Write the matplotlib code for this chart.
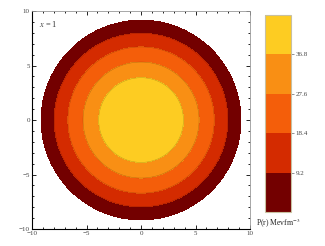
import numpy as np
import matplotlib
matplotlib.use("Agg")
import matplotlib.pyplot as plt
from matplotlib.ticker import MultipleLocator

# Data
levels = [2.0, 9.2, 18.4, 27.6, 36.8, 46.0]           # contour levels (colorbar range)
bound_radii = [0.0, 3.89, 5.32, 6.71, 7.96, 9.17]     # radius where P equals the value below
bound_vals = [46.0, 36.8, 27.6, 18.4, 9.2, 2.0]
cbar_ticks = [9.2, 18.4, 27.6, 36.8]
colors = ["#730000", "#d42b00", "#f45e0a", "#f98f14", "#fdcc22"]
label_text = "$x$ = 1"
cbar_label = "P(r) Mevfm$^{-3}$"

plt.rcParams['font.family'] = ['Liberation Serif', 'DejaVu Serif']
plt.rcParams['mathtext.fontset'] = 'stix'

fig = plt.figure(figsize=(3.25, 2.46), dpi=100)
ax = fig.add_axes([0.0985, 0.069, 0.671, 0.886])

g = np.linspace(-10, 10, 801)
X, Y = np.meshgrid(g, g)
R = np.sqrt(X**2 + Y**2)
P = np.interp(R, bound_radii, bound_vals, right=-1.0)

cf = ax.contourf(X, Y, P, levels=levels, colors=colors)
ax.contour(X, Y, P, levels=levels[1:-1], colors='k', linewidths=0.35, alpha=0.25)

ax.set_xlim(-10, 10)
ax.set_ylim(-10, 10)
ax.set_xticks([-10, -5, 0, 5, 10])
ax.set_yticks([-10, -5, 0, 5, 10])
ax.xaxis.set_minor_locator(MultipleLocator(1))
ax.yaxis.set_minor_locator(MultipleLocator(1))
ax.tick_params(which='both', direction='in', top=True, right=True,
               labelsize=5, labelcolor='#444444', pad=1.5, width=0.6)
ax.tick_params(which='major', length=3)
ax.tick_params(which='minor', length=1.5)
for s in ['left', 'bottom']:
    ax.spines[s].set_color('black')
    ax.spines[s].set_linewidth(0.8)
for s in ['top', 'right']:
    ax.spines[s].set_color('#999999')
    ax.spines[s].set_linewidth(0.6)
ax.set_xticklabels(['\u221210', '\u22125', '0', '5', '10'])
ax.set_yticklabels(['\u221210', '\u22125', '0', '5', '10'])

ax.text(-9.4, 8.8, label_text, fontsize=6, color='#333333', va='center', ha='left')

cax = fig.add_axes([0.815, 0.138, 0.08, 0.801])
cb = fig.colorbar(cf, cax=cax)
cb.set_ticks(cbar_ticks)
cb.set_ticklabels([f"{v:.1f}" for v in cbar_ticks])
cb.ax.tick_params(labelsize=5, labelcolor='#444444', length=2, width=0.5, pad=1.5, color='#666666')
cb.outline.set_edgecolor('#c8c0a0')
cb.outline.set_linewidth(0.8)
fig.text(0.855, 0.118, cbar_label, fontsize=5.5, ha='center', va='top', color='#222222')

fig.savefig("out.png", dpi=100)
